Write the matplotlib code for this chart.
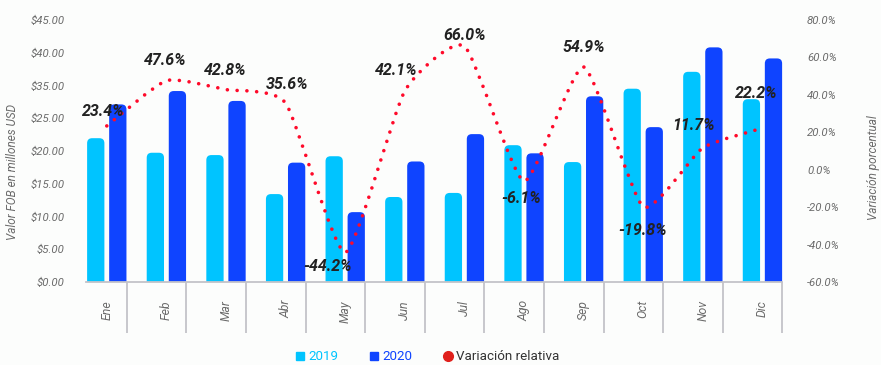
import matplotlib.pyplot as plt
import numpy as np
from matplotlib.lines import Line2D
from matplotlib.patches import FancyBboxPatch, PathPatch
from matplotlib.path import Path
from matplotlib.transforms import blended_transform_factory

plt.rcParams["font.family"] = ["Roboto", "DejaVu Sans"]

# monthly FOB exports, millions USD
months = ["Ene", "Feb", "Mar", "Abr", "May", "Jun",
          "Jul", "Ago", "Sep", "Oct", "Nov", "Dic"]
fob_2019 = [24.7, 22.2, 21.8, 15.1, 21.6, 14.6, 15.3, 23.5, 20.6, 33.2, 36.1, 31.4]
fob_2020 = [30.5, 32.8, 31.1, 20.5, 12.0, 20.7, 25.4, 22.1, 31.9, 26.6, 40.3, 38.4]
variation = [23.4, 47.6, 42.8, 35.6, -44.2, 42.1, 66.0, -6.1, 54.9, -19.8, 11.7, 22.2]

left_ticks = ["$0.00", "$5.00", "$10.00", "$15.00", "$20.00",
              "$25.00", "$35.00", "$40.00", "$45.00"]

C19 = "#00c4ff"
C20 = "#0f44ff"
RED = "#ff0a2a"
GRAY = "#6b6b6b"
BG = "#fcfdfc"

fig = plt.figure(figsize=(8.81, 3.65), dpi=100, facecolor=BG)
ax = fig.add_axes([74 / 881, 1 - 282 / 365, 726 / 881, 262 / 365])
ax.set_facecolor("none")
ax2 = ax.twinx()

x = np.arange(len(months))
w = 0.29
off = 0.185
ax.set_xlim(-0.55, 11.63)
ax.set_ylim(0, 45)
ax2.set_ylim(-60, 80)

# rounded-top bars
xu = 1 / 59.6
yu = 45 / 262
r = 5 * xu
for vals, sign, col in [(fob_2019, -1, C19), (fob_2020, 1, C20)]:
    bars = ax.bar(x + sign * off, vals, width=w, color=col)
    for b in bars:
        b.set_visible(False)
        p = FancyBboxPatch((b.get_x(), -r * yu / xu), b.get_width(),
                           b.get_height() + r * yu / xu,
                           boxstyle=f"round,pad=0,rounding_size={r}",
                           mutation_aspect=yu / xu, fc=col, ec="none")
        ax.add_patch(p)

# smooth dotted curve through the variation points (cardinal spline -> Bezier)
tension = 0.55
pts = np.column_stack([x, variation]).astype(float)
ext = np.vstack([pts[0], pts, pts[-1]])
verts = [tuple(pts[0])]
codes = [Path.MOVETO]
for i in range(1, len(ext) - 2):
    p0, p1, p2, p3 = ext[i - 1], ext[i], ext[i + 1], ext[i + 2]
    c1 = p1 + tension * (p2 - p0) / 6
    c2 = p2 - tension * (p3 - p1) / 6
    verts += [tuple(c1), tuple(c2), tuple(p2)]
    codes += [Path.CURVE4] * 3
curve = PathPatch(Path(verts, codes), fill=False, ec=RED, lw=2.6,
                  linestyle=(0, (0.01, 2.7)), capstyle="round", zorder=3)
ax2.add_patch(curve)

# value labels
dx = [-3, -1, -1, 2, -18, -9, 0, -3, 0, -1, -9, -6]
dy = [14, 20, 19, 19, -14, 20, 11, -17, 19, -24, 22, 35]
for i, v in enumerate(variation):
    ax2.annotate(f"{v:.1f}%", (x[i], v), xytext=(dx[i], dy[i]),
                 textcoords="offset pixels", ha="center", va="center",
                 fontsize=11.5, fontweight="bold", fontstyle="italic",
                 color="#222222", zorder=5)

# axes styling
for a in (ax, ax2):
    for s in a.spines.values():
        s.set_visible(False)
ax.spines["bottom"].set_visible(True)
ax.spines["bottom"].set_bounds(-0.35, 11.335)
ax.spines["bottom"].set_color("#c3c3c9")
ax.spines["bottom"].set_linewidth(1.3)

ax.set_yticks(np.linspace(0, 45, 9))
ax.set_yticklabels(left_ticks)
ax.tick_params(axis="y", length=0, pad=7, labelsize=8.2, labelcolor=GRAY)
for t in ax.get_yticklabels():
    t.set_fontstyle("italic")

ax2.set_yticks(np.arange(-60, 81, 20))
ax2.set_yticklabels([f"{v:.1f}%" for v in np.arange(-60, 81, 20)])
ax2.tick_params(axis="y", length=0, pad=5, labelsize=8.2, labelcolor=GRAY)
for t in ax2.get_yticklabels():
    t.set_fontstyle("italic")

ax.set_xticks(x)
ax.set_xticklabels(months, rotation=90, fontstyle="italic", fontsize=8.8,
                   color=GRAY)
ax.tick_params(axis="x", length=0, pad=13)

# category separators below the axis
trans = blended_transform_factory(ax.transData, ax.transAxes)
ax.vlines(x + 0.335, -51 / 262, 0, transform=trans, colors="#c3c3c9",
          lw=1.3, clip_on=False)

fig.text(13 / 881, 1 - 172 / 365, "Valor FOB en millones USD", rotation=90,
         ha="center", va="center", fontsize=8.5, fontstyle="italic",
         color=GRAY)
fig.text(873 / 881, 1 - 168 / 365, "Variación porcentual", rotation=90,
         ha="center", va="center", fontsize=8.5, fontstyle="italic",
         color=GRAY)

handles = [
    Line2D([], [], ls="none", marker="s", ms=6, mfc=C19, mec=C19),
    Line2D([], [], ls="none", marker="s", ms=6, mfc=C20, mec=C20),
    Line2D([], [], ls="none", marker="o", ms=7, mfc="#e0201c", mec="#e0201c"),
]
fig.legend(handles, ["2019", "2020", "Variación relativa"],
           loc="center", bbox_to_anchor=(428 / 881, 1 - 357 / 365), ncol=3,
           frameon=False, fontsize=9.6, handletextpad=0.3,
           columnspacing=2.4, handlelength=0.6,
           labelcolor=[C19, C20, "#333333"])

fig.savefig("out.png", dpi=100, facecolor=BG)
